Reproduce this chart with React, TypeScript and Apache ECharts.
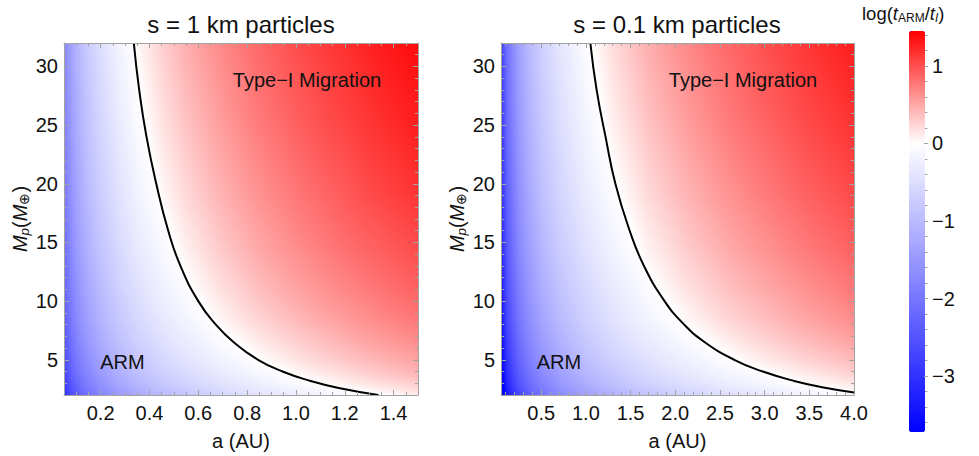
import React, { useEffect, useRef } from "react";
import * as echarts from "echarts";

// ---------------- data ----------------
// grid nodes along a (AU) for each panel, and along Mp (Earth masses)
const leftANodes = [0.05, 0.07, 0.1, 0.14, 0.2, 0.27, 0.35, 0.45, 0.55, 0.7, 0.85, 1.0, 1.15, 1.3, 1.5];
const rightANodes = [0.05, 0.08, 0.12, 0.18, 0.25, 0.35, 0.5, 0.7, 1.0, 1.3, 1.7, 2.1, 2.6, 3.0, 3.5, 4.0];
const massNodes = [2, 2.5, 3.2, 4, 5, 6.5, 8.5, 11, 14.5, 19, 25, 32];

// log(t_ARM / t_I) read at the nodes; rows from bottom (low Mp) to top, columns left to right
const leftValues = [
  [-3.06, -2.74, -2.41, -2.10, -1.77, -1.49, -1.25, -1.01, -0.83, -0.60, -0.42, -0.27, -0.14, -0.03, 0.11],
  [-2.95, -2.64, -2.31, -2.00, -1.67, -1.39, -1.15, -0.91, -0.73, -0.50, -0.32, -0.17, -0.04, 0.08, 0.21],
  [-2.84, -2.53, -2.19, -1.88, -1.55, -1.27, -1.03, -0.80, -0.61, -0.39, -0.21, -0.05, 0.08, 0.19, 0.32],
  [-2.74, -2.42, -2.09, -1.78, -1.45, -1.17, -0.93, -0.69, -0.51, -0.28, -0.10, 0.05, 0.18, 0.29, 0.43],
  [-2.63, -2.32, -1.99, -1.68, -1.35, -1.07, -0.83, -0.59, -0.41, -0.18, 0.00, 0.15, 0.28, 0.40, 0.53],
  [-2.51, -2.20, -1.87, -1.55, -1.22, -0.94, -0.70, -0.47, -0.28, -0.06, 0.12, 0.27, 0.40, 0.52, 0.65],
  [-2.39, -2.07, -1.74, -1.43, -1.10, -0.82, -0.58, -0.34, -0.16, 0.07, 0.25, 0.40, 0.53, 0.64, 0.78],
  [-2.27, -1.95, -1.62, -1.31, -0.98, -0.70, -0.46, -0.22, -0.04, 0.19, 0.37, 0.52, 0.65, 0.76, 0.90],
  [-2.14, -1.83, -1.49, -1.18, -0.85, -0.57, -0.33, -0.10, 0.09, 0.32, 0.50, 0.65, 0.78, 0.89, 1.02],
  [-2.01, -1.70, -1.37, -1.06, -0.72, -0.45, -0.20, 0.03, 0.22, 0.44, 0.62, 0.77, 0.90, 1.02, 1.15],
  [-1.89, -1.57, -1.24, -0.93, -0.60, -0.32, -0.08, 0.16, 0.34, 0.57, 0.75, 0.90, 1.03, 1.14, 1.28],
  [-1.77, -1.46, -1.13, -0.81, -0.48, -0.20, 0.04, 0.27, 0.46, 0.68, 0.86, 1.01, 1.14, 1.26, 1.39],
];

const rightValues = [
  [-4.24, -3.79, -3.40, -3.01, -2.70, -2.38, -2.04, -1.71, -1.37, -1.12, -0.87, -0.66, -0.46, -0.32, -0.18, -0.05],
  [-4.13, -3.68, -3.29, -2.91, -2.59, -2.27, -1.93, -1.61, -1.27, -1.02, -0.76, -0.56, -0.36, -0.22, -0.07, 0.06],
  [-4.01, -3.56, -3.18, -2.79, -2.47, -2.15, -1.81, -1.49, -1.15, -0.90, -0.64, -0.44, -0.24, -0.10, 0.05, 0.18],
  [-3.91, -3.46, -3.07, -2.69, -2.37, -2.05, -1.71, -1.39, -1.05, -0.80, -0.54, -0.34, -0.13, 0.00, 0.15, 0.28],
  [-3.80, -3.35, -2.96, -2.57, -2.26, -1.94, -1.60, -1.28, -0.94, -0.68, -0.43, -0.23, -0.02, 0.12, 0.26, 0.39],
  [-3.67, -3.22, -2.84, -2.45, -2.14, -1.81, -1.47, -1.15, -0.81, -0.56, -0.30, -0.10, 0.10, 0.24, 0.39, 0.52],
  [-3.54, -3.09, -2.70, -2.32, -2.00, -1.68, -1.34, -1.02, -0.68, -0.43, -0.17, 0.03, 0.24, 0.37, 0.52, 0.65],
  [-3.42, -2.97, -2.58, -2.19, -1.88, -1.56, -1.22, -0.90, -0.56, -0.31, -0.05, 0.15, 0.36, 0.49, 0.64, 0.77],
  [-3.29, -2.84, -2.45, -2.06, -1.75, -1.43, -1.09, -0.77, -0.43, -0.18, 0.08, 0.28, 0.49, 0.62, 0.77, 0.90],
  [-3.16, -2.71, -2.33, -1.94, -1.63, -1.30, -0.96, -0.64, -0.30, -0.05, 0.21, 0.41, 0.61, 0.75, 0.90, 1.02],
  [-3.03, -2.58, -2.19, -1.80, -1.49, -1.17, -0.83, -0.51, -0.17, 0.09, 0.34, 0.54, 0.75, 0.88, 1.03, 1.16],
  [-2.91, -2.46, -2.08, -1.69, -1.38, -1.05, -0.71, -0.39, -0.05, 0.20, 0.46, 0.66, 0.86, 1.00, 1.15, 1.28],
];

// t_ARM = t_I contour (black line)
const leftContourA = [0.336, 0.358, 0.388, 0.428, 0.477, 0.527, 0.6, 0.672, 0.745, 0.845, 0.945, 1.06, 1.175, 1.338];
const leftContourM = [32, 28, 24, 20, 16, 13, 10, 8, 6.5, 5, 4, 3.2, 2.6, 2.0];
const rightContourA = [1.05, 1.12, 1.22, 1.33, 1.49, 1.65, 1.88, 2.1, 2.33, 2.66, 2.98, 3.33, 3.69, 4.0];
const rightContourM = [32, 28, 24, 20, 16, 13, 10, 8, 6.5, 5, 4, 3.2, 2.6, 2.22];

// ticks
const leftATicks = [0.2, 0.4, 0.6, 0.8, 1.0, 1.2, 1.4];
const rightATicks = [0.5, 1.0, 1.5, 2.0, 2.5, 3.0, 3.5, 4.0];
const massTicks = [5, 10, 15, 20, 25, 30];
const colorTicks = [-3, -2, -1, 0, 1];

const titles = ["s = 1 km particles", "s = 0.1 km particles"];

// ---------------- helpers (styling) ----------------
const FONT = "'Liberation Sans', Arial, Helvetica, sans-serif";
const AXIS_COLOR = "#a3a3a3";
const TEXT_COLOR = "#111";
const V_MIN = -3.72;
const V_MAX = 1.45;
const TICK_FS = 20;

function stepValues(from: number, to: number, step: number, exclude: number[]) {
  const out: number[] = [];
  for (let k = 0; ; k++) {
    const v = +(from + k * step).toFixed(4);
    if (v > to + 1e-9) break;
    if (!exclude.some((e) => Math.abs(e - v) < 1e-9)) out.push(v);
  }
  return out;
}

// blue -> white (at 0) -> red colour scale, same as the colour bar
function colorAt(v: number) {
  if (v < 0) {
    const t = Math.min(1, v / V_MIN);
    const c = Math.round(255 * (1 - t));
    return `rgb(${c},${c},255)`;
  }
  const t = Math.min(1, v / V_MAX);
  const c = Math.round(255 * (1 - t));
  return `rgb(255,${c},${c})`;
}
const N_STOPS = 104;
const colorStops = Array.from({ length: N_STOPS }, (_, k) => colorAt(V_MIN + (k * (V_MAX - V_MIN)) / (N_STOPS - 1)));

// one cell between neighbouring nodes: [aLo, aHi, mLo, mHi, v00, v10, v01, v11]
function buildCells(aNodes: number[], mNodes: number[], values: number[][]) {
  const cells: number[][] = [];
  for (let j = 0; j < mNodes.length - 1; j++) {
    for (let i = 0; i < aNodes.length - 1; i++) {
      cells.push([
        aNodes[i], aNodes[i + 1], mNodes[j], mNodes[j + 1],
        values[j][i], values[j][i + 1], values[j + 1][i], values[j + 1][i + 1],
      ]);
    }
  }
  return cells;
}

const zip = (xs: number[], ys: number[]) => xs.map((x, i) => [x, ys[i]]);

const fmt1 = (v: number) => v.toFixed(1);
const fmtInt = (v: number) => String(Math.round(v));
const fmtMinus = (v: number) => (v < 0 ? "\u2212" + Math.abs(v) : String(v));

function xAxes(grid: number, min: number, max: number, majors: number[], minors: number[]) {
  const base = { gridIndex: grid, type: "value", min, max, z: 6, splitLine: { show: false } };
  return [
    {
      ...base,
      position: "bottom",
      axisLine: { show: true, lineStyle: { color: AXIS_COLOR, width: 1 } },
      axisTick: { show: true, inside: true, length: 5, customValues: majors, lineStyle: { color: AXIS_COLOR } },
      axisLabel: { show: true, customValues: majors, formatter: fmt1, fontSize: TICK_FS, color: TEXT_COLOR, fontFamily: FONT, margin: 8 },
      name: "a (AU)",
      nameLocation: "middle",
      nameGap: 36,
      nameTextStyle: { fontSize: TICK_FS, color: TEXT_COLOR, fontFamily: FONT },
    },
    {
      ...base,
      position: "bottom",
      axisLine: { show: false },
      axisTick: { show: true, inside: true, length: 3, customValues: minors, lineStyle: { color: AXIS_COLOR } },
      axisLabel: { show: false },
    },
    {
      ...base,
      position: "top",
      axisLine: { show: true, lineStyle: { color: AXIS_COLOR, width: 1 } },
      axisTick: { show: true, inside: true, length: 5, customValues: majors, lineStyle: { color: AXIS_COLOR } },
      axisLabel: { show: false },
    },
    {
      ...base,
      position: "top",
      axisLine: { show: false },
      axisTick: { show: true, inside: true, length: 3, customValues: minors, lineStyle: { color: AXIS_COLOR } },
      axisLabel: { show: false },
    },
  ];
}

function yAxes(grid: number) {
  const minors = stepValues(3, 31, 1, massTicks);
  const base = {
    gridIndex: grid,
    type: "value",
    min: massNodes[0],
    max: massNodes[massNodes.length - 1],
    z: 6,
    splitLine: { show: false },
  };
  const subStyle = { fontSize: 13.5, lineHeight: 12, verticalAlign: "bottom", fontFamily: FONT, color: TEXT_COLOR };
  return [
    {
      ...base,
      position: "left",
      axisLine: { show: true, lineStyle: { color: AXIS_COLOR, width: 1 } },
      axisTick: { show: true, inside: true, length: 5, customValues: massTicks, lineStyle: { color: AXIS_COLOR } },
      axisLabel: { show: true, customValues: massTicks, formatter: fmtInt, fontSize: TICK_FS, color: TEXT_COLOR, fontFamily: FONT, margin: 6 },
      name: "{i|M}{is|p}{n|(}{i|M}{s|\u2295}{n|)}",
      nameLocation: "middle",
      nameRotate: 90,
      nameGap: 32,
      nameTextStyle: {
        fontSize: TICK_FS,
        color: TEXT_COLOR,
        fontFamily: FONT,
        rich: {
          i: { fontStyle: "italic", fontSize: TICK_FS, lineHeight: 24, fontFamily: FONT, color: TEXT_COLOR },
          n: { fontSize: TICK_FS, lineHeight: 24, fontFamily: FONT, color: TEXT_COLOR },
          is: { ...subStyle, fontStyle: "italic" },
          s: { ...subStyle },
        },
      },
    },
    {
      ...base,
      position: "left",
      axisLine: { show: false },
      axisTick: { show: true, inside: true, length: 3, customValues: minors, lineStyle: { color: AXIS_COLOR } },
      axisLabel: { show: false },
    },
    {
      ...base,
      position: "right",
      axisLine: { show: true, lineStyle: { color: AXIS_COLOR, width: 1 } },
      axisTick: { show: true, inside: true, length: 5, customValues: massTicks, lineStyle: { color: AXIS_COLOR } },
      axisLabel: { show: false },
    },
    {
      ...base,
      position: "right",
      axisLine: { show: false },
      axisTick: { show: true, inside: true, length: 3, customValues: minors, lineStyle: { color: AXIS_COLOR } },
      axisLabel: { show: false },
    },
  ];
}

// each cell is shaded between the values at its four corner nodes
function renderCell(params: any, api: any) {
  const aLo = api.value(0), aHi = api.value(1), mLo = api.value(2), mHi = api.value(3);
  const v00 = api.value(4), v10 = api.value(5), v01 = api.value(6), v11 = api.value(7);
  const pLo = api.coord([aLo, mLo]);
  const pHi = api.coord([aHi, mHi]);
  const xL = Math.round(pLo[0]);
  const xR = Math.round(pHi[0]);
  const yB = Math.round(pLo[1]);
  const yT = Math.round(pHi[1]);
  const w = Math.max(1, xR - xL);
  const h = Math.max(1, yB - yT);
  const du = (v10 - v00 + (v11 - v01)) / 2;
  const dm = (v01 - v00 + (v11 - v10)) / 2;
  const vc = (v00 + v10 + v01 + v11) / 4;
  const gx = du / w;
  const gy = -dm / h;
  const gl = Math.hypot(gx, gy);
  let fill: any;
  if (gl < 1e-9) {
    fill = colorAt(vc);
  } else {
    const cx = (xL + xR) / 2;
    const cy = (yT + yB) / 2;
    const R = 0.5 * Math.hypot(w, h);
    const dx = gx / gl;
    const dy = gy / gl;
    const v0 = vc - gl * R;
    const v1 = vc + gl * R;
    const fr = [0, 1];
    [V_MIN, 0, V_MAX].forEach((b) => {
      const f = (b - v0) / (v1 - v0);
      if (f > 0 && f < 1) fr.push(f);
    });
    fr.sort((p, q) => p - q);
    fill = new echarts.graphic.LinearGradient(
      cx - dx * R,
      cy - dy * R,
      cx + dx * R,
      cy + dy * R,
      fr.map((f) => ({ offset: f, color: colorAt(v0 + f * (v1 - v0)) })),
      true
    );
  }
  return {
    type: "rect",
    shape: { x: xL, y: yT, width: w, height: h },
    style: { fill, stroke: null },
  };
}

function textEl(text: string, x: number, y: number, fontSize: number) {
  return {
    type: "text",
    x,
    y,
    z: 100,
    style: { text, fontSize, fontFamily: FONT, fill: TEXT_COLOR, textAlign: "center", textVerticalAlign: "middle" },
  };
}

export default function App() {
  const ref = useRef<HTMLDivElement>(null);

  useEffect(() => {
    if (!ref.current) return;
    const chart = echarts.init(ref.current, null, { renderer: "svg" });

    const leftMinors = stepValues(0.1, 1.45, 0.05, leftATicks);
    const rightMinors = stepValues(0.1, 3.9, 0.1, rightATicks);
    const colorMinors = stepValues(-3.6, 1.4, 0.2, colorTicks);

    const option: any = {
      animation: false,
      backgroundColor: "#fff",
      textStyle: { fontFamily: FONT },
      grid: [
        { left: 64, top: 43, width: 354, height: 353 },
        { left: 501, top: 43, width: 353, height: 353 },
        { left: 924, top: 31, width: 1, height: 401 },
      ],
      xAxis: [
        ...xAxes(0, leftANodes[0], leftANodes[leftANodes.length - 1], leftATicks, leftMinors),
        ...xAxes(1, rightANodes[0], rightANodes[rightANodes.length - 1], rightATicks, rightMinors),
        { gridIndex: 2, type: "value", show: false },
      ],
      yAxis: [
        ...yAxes(0),
        ...yAxes(1),
        {
          gridIndex: 2,
          type: "value",
          min: V_MIN,
          max: V_MAX,
          position: "right",
          z: 6,
          splitLine: { show: false },
          axisLine: { show: false },
          axisTick: { show: true, length: 4, customValues: colorTicks, lineStyle: { color: AXIS_COLOR } },
          axisLabel: { show: true, customValues: colorTicks, formatter: fmtMinus, fontSize: TICK_FS, color: TEXT_COLOR, fontFamily: FONT, margin: 7 },
        },
        {
          gridIndex: 2,
          type: "value",
          min: V_MIN,
          max: V_MAX,
          position: "right",
          z: 6,
          splitLine: { show: false },
          axisLine: { show: false },
          axisTick: { show: true, length: 2.5, customValues: colorMinors, lineStyle: { color: AXIS_COLOR } },
          axisLabel: { show: false },
        },
      ],
      visualMap: {
        type: "continuous",
        min: V_MIN,
        max: V_MAX,
        dimension: 4,
        seriesIndex: [0, 1],
        inRange: { color: colorStops },
        outOfRange: { color: colorStops[0] },
        calculable: false,
        orient: "vertical",
        left: 909,
        top: 31,
        itemWidth: 16,
        itemHeight: 401,
        padding: 0,
        hoverLink: false,
      },
      series: [
        {
          type: "custom",
          name: titles[0],
          xAxisIndex: 0,
          yAxisIndex: 0,
          encode: { x: [0, 1], y: [2, 3] },
          data: buildCells(leftANodes, massNodes, leftValues),
          renderItem: renderCell,
          silent: true,
        },
        {
          type: "custom",
          name: titles[1],
          xAxisIndex: 4,
          yAxisIndex: 4,
          encode: { x: [0, 1], y: [2, 3] },
          data: buildCells(rightANodes, massNodes, rightValues),
          renderItem: renderCell,
          silent: true,
        },
        {
          type: "line",
          xAxisIndex: 0,
          yAxisIndex: 0,
          data: zip(leftContourA, leftContourM),
          smooth: 0.5,
          showSymbol: false,
          symbol: "none",
          lineStyle: { color: "#000", width: 2 },
          z: 4,
          silent: true,
        },
        {
          type: "line",
          xAxisIndex: 4,
          yAxisIndex: 4,
          data: zip(rightContourA, rightContourM),
          smooth: 0.5,
          showSymbol: false,
          symbol: "none",
          lineStyle: { color: "#000", width: 2 },
          z: 4,
          silent: true,
        },
      ],
      graphic: [
        textEl(titles[0], 241, 24, 24),
        textEl(titles[1], 677, 24, 24),
        textEl("Type\u2212I Migration", 307, 80, 20),
        textEl("Type\u2212I Migration", 743, 80, 20),
        textEl("ARM", 122.5, 362, 20),
        textEl("ARM", 559, 362, 20),
        {
          type: "text",
          x: 862,
          y: 13,
          z: 100,
          style: {
            text: "{n|log(}{i|t}{s|ARM}{n|/}{i|t}{si|I}{n|)}",
            fontFamily: FONT,
            fill: TEXT_COLOR,
            textAlign: "left",
            textVerticalAlign: "middle",
            rich: {
              n: { fontSize: 18.5, lineHeight: 22, fontFamily: FONT, fill: TEXT_COLOR },
              i: { fontSize: 18.5, lineHeight: 22, fontStyle: "italic", fontFamily: FONT, fill: TEXT_COLOR },
              s: { fontSize: 12, lineHeight: 11, verticalAlign: "bottom", fontFamily: FONT, fill: TEXT_COLOR },
              si: { fontSize: 12, lineHeight: 11, verticalAlign: "bottom", fontStyle: "italic", fontFamily: FONT, fill: TEXT_COLOR },
            },
          },
        },
      ],
    };

    chart.setOption(option);
    return () => chart.dispose();
  }, []);

  return (
    <div
      ref={ref}
      style={{ position: "fixed", left: 0, top: 0, width: 979, height: 456, background: "#fff" }}
    />
  );
}
